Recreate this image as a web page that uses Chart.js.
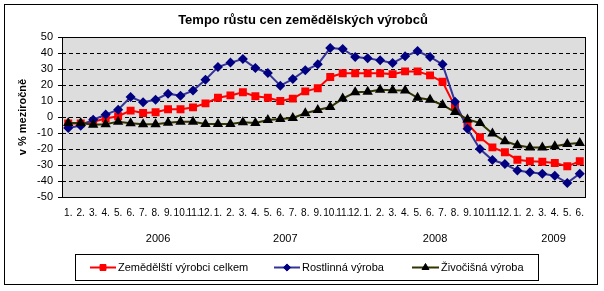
<!DOCTYPE html>
<html>
<head>
<meta charset="utf-8">
<script src="https://cdn.jsdelivr.net/npm/chart.js@4/dist/chart.umd.min.js"></script>
<style>
html,body{margin:0;padding:0;background:#fff;}
#wrap{width:604px;height:291px;}
</style>
</head>
<body>
<div id="wrap"><canvas id="c" width="604" height="291"></canvas></div>
<script>
// ---- data ----
const months = ['1.','2.','3.','4.','5.','6.','7.','8.','9.','10.','11.','12.',
                '1.','2.','3.','4.','5.','6.','7.','8.','9.','10.','11.','12.',
                '1.','2.','3.','4.','5.','6.','7.','8.','9.','10.','11.','12.',
                '1.','2.','3.','4.','5.','6.'];
const years = ['2006','2007','2008','2009'];
const yTicks = [50,40,30,20,10,0,-10,-20,-30,-40,-50];
const seriesNames = ['Zemědělští výrobci celkem','Rostlinná výroba','Živočišná výroba'];
const total = [-4,-4,-3,-1,0.5,4,2.5,3,4.8,4.8,6,8.5,
               12,13.5,15.5,13,12,10,11.5,16,18,25,27.3,27.3,
               27.3,27.3,26.8,28.5,28.5,26,22,6.5,-4.2,-12.6,-19,-22,
               -26.7,-27.7,-28,-28.8,-30.8,-27.7];
const plant = [-6.9,-5.4,-1.7,1.5,4.6,12.5,9.2,10.8,14.6,13.3,16.5,23.3,
               31.2,34,36.2,30.6,27.5,19.6,23.7,29.2,32.9,43.1,42.5,37.5,
               36.7,35.4,33.7,37.9,41.2,37.5,32.9,9.6,-7.4,-20,-26.9,-29.4,
               -33.5,-34.6,-35.4,-36.7,-41.2,-35.4];
const animal = [-3.75,-3.75,-4.8,-4.5,-2.9,-3.9,-4.5,-4.5,-3.6,-2.9,-3,-4.4,
                -4.4,-4.4,-3.3,-3.75,-1.9,-1.25,-0.6,2.3,4.4,6.2,11.5,15.4,
                15.8,17,16.7,16.6,12,10.8,7.5,3.1,-1.5,-3.75,-10.3,-15.2,
                -17.7,-19,-19,-18.3,-16.9,-16.25];

const FONT = '"Liberation Sans", Arial, sans-serif';

const decor = {
  id: 'decor',
  beforeDraw(chart) {
    const ctx = chart.ctx, a = chart.chartArea;
    ctx.save();
    ctx.fillStyle = '#fff';
    ctx.fillRect(0, 0, chart.width, chart.height);
    ctx.fillStyle = '#DDDDDD';
    ctx.fillRect(a.left, a.top, a.right - a.left, a.bottom - a.top);
    ctx.restore();
  },
  afterDraw(chart) {
    const ctx = chart.ctx, a = chart.chartArea;
    ctx.save();
    // plot border
    ctx.strokeStyle = '#000'; ctx.lineWidth = 1; ctx.setLineDash([]);
    ctx.strokeRect(Math.round(a.left) + 0.5, Math.round(a.top) + 0.5,
                   Math.round(a.right - a.left) - 1, Math.round(a.bottom - a.top));
    // outer border
    ctx.strokeRect(4.5, 4.5, 593, 280);
    // title
    ctx.fillStyle = '#000';
    ctx.font = 'bold 13px ' + FONT;
    ctx.textAlign = 'center'; ctx.textBaseline = 'middle';
    ctx.fillText('Tempo růstu cen zemědělských výrobců', 303, 20);
    // y title
    ctx.save();
    ctx.translate(23, (a.top + a.bottom) / 2);
    ctx.rotate(-Math.PI / 2);
    ctx.font = 'bold 11px ' + FONT;
    ctx.fillText('v % meziročně', 0, 0);
    ctx.restore();
    // year labels
    const xs = chart.scales.x;
    const yearAt = [7.2, 17.4, 29.4, 38.9];
    ctx.font = '11px ' + FONT;
    years.forEach((y, i) => ctx.fillText(y, xs.getPixelForValue(yearAt[i]), 239));
    // legend
    ctx.strokeStyle = '#000'; ctx.lineWidth = 1;
    ctx.strokeRect(75.5, 254.5, 463, 26);
    const items = [{x: 90, w: 26}, {x: 274, w: 26}, {x: 412, w: 27}];
    const ly = 267.5;
    chart.data.datasets.forEach((ds, i) => {
      const it = items[i];
      ctx.strokeStyle = ds.borderColor; ctx.lineWidth = ds.borderWidth;
      ctx.beginPath(); ctx.moveTo(it.x, ly); ctx.lineTo(it.x + it.w, ly); ctx.stroke();
      ctx.fillStyle = ds.pointBackgroundColor; ctx.strokeStyle = ds.pointBorderColor;
      ctx.lineWidth = 1;
      Chart.helpers.drawPoint(ctx, {pointStyle: ds.pointStyle, radius: ds.pointRadius,
        borderWidth: 1, rotation: 0}, it.x + it.w / 2, ly);
      ctx.fillStyle = '#000';
      ctx.font = '11px ' + FONT;
      ctx.textAlign = 'left'; ctx.textBaseline = 'middle';
      ctx.fillText(ds.label, it.x + it.w + 2, ly);
    });
    ctx.restore();
  }
};

new Chart(document.getElementById('c'), {
  type: 'line',
  data: {
    labels: months,
    datasets: [
      {label: seriesNames[0], data: total, borderColor: '#FF0000', borderWidth: 2,
       pointStyle: 'rect', pointRadius: 4.2, pointBackgroundColor: '#FF0000',
       pointBorderColor: '#FF0000', order: 3, tension: 0},
      {label: seriesNames[1], data: plant, borderColor: '#333399', borderWidth: 2,
       pointStyle: 'rectRot', pointRadius: 3.6, pointBackgroundColor: '#000080',
       pointBorderColor: '#000080', order: 2, tension: 0},
      {label: seriesNames[2], data: animal, borderColor: '#333300', borderWidth: 2,
       pointStyle: 'triangle', pointRadius: 4, pointBackgroundColor: '#000000',
       pointBorderColor: '#000000', order: 1, tension: 0}
    ]
  },
  options: {
    responsive: false,
    animation: false,
    events: [],
    layout: {padding: {left: 0, top: 37, right: 18, bottom: 0}},
    plugins: {legend: {display: false}, title: {display: false}, tooltip: {enabled: false}},
    scales: {
      x: {
        type: 'category', offset: true,
        grid: {display: false, drawTicks: false},
        border: {display: false},
        ticks: {autoSkip: false, maxRotation: 0, minRotation: 0, padding: 10,
                color: '#000', font: {family: FONT, size: 10}},
        afterFit(s) { s.height = 94; }
      },
      y: {
        min: yTicks[yTicks.length - 1], max: yTicks[0],
        afterBuildTicks(s) { s.ticks = yTicks.map(v => ({value: v})); },
        grid: {color: '#000', lineWidth: 1, drawTicks: true, tickLength: 4,
               tickColor: '#000', tickBorderDash: []},
        border: {display: false, dash: [4, 3]},
        ticks: {autoSkip: false, padding: 5, color: '#000', font: {family: FONT, size: 11}},
        afterFit(s) { s.width = 62; }
      }
    }
  },
  plugins: [decor]
});
</script>
</body>
</html>
